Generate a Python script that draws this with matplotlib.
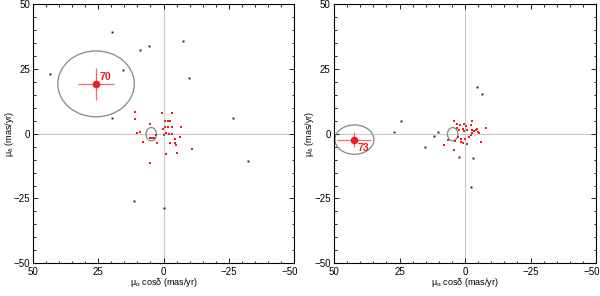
import matplotlib
matplotlib.use("Agg")
import matplotlib.pyplot as plt
from matplotlib.patches import Ellipse
from matplotlib.ticker import MultipleLocator
import matplotlib.transforms as mtransforms

plt.rcParams['font.family'] = ['Liberation Sans', 'DejaVu Sans']
plt.rcParams['mathtext.fontset'] = 'custom'
plt.rcParams['mathtext.rm'] = 'Liberation Sans'
plt.rcParams['mathtext.it'] = 'Liberation Sans'
plt.rcParams['mathtext.bf'] = 'Liberation Sans:bold'

# ---------------- data: left panel (cluster 70) ----------------
left_black_x = [19.9, 5.7, 8.9, -7.4, 43.7, 15.4, -9.8, 19.8, -26.6, -32.3, 11.4, -0.1]
left_black_y = [39.1, 33.9, 32.3, 35.7, 23.0, 24.4, 21.5, 5.9, 6.0, -10.7, -26.0, -28.7]
left_red_x = [10.8, 11.1, 0.7, -3.4, -0.7, -1.6, -2.6, -0.6, -1.6, -3.4, -6.6, 5.3,
              0.3, 10.3, 9.0, -0.3, -1.0, -2.2, -3.3, -6.5, 5.3, 4.3, 2.8, 2.5,
              7.8, -2.6, -4.3, -4.4, -4.9, -10.9, -0.8, -5.1, 5.1, 3.7]
left_red_y = [8.2, 5.7, 8.0, 8.0, 5.0, 4.9, 4.9, 2.7, 2.7, 2.7, 2.6, 3.6,
              1.9, 0.3, 0.6, -0.5, 0.4, -0.2, -0.2, -1.3, -1.7, -1.7, -0.6, -3.7,
              -3.2, -3.7, -2.2, -3.5, -4.3, -5.9, -7.7, -7.3, -11.3, -1.7]
left_star = dict(name="70", x=26.0, y=19.2, ex=6.9, ey=6.3,
                 ell_x=25.9, ell_y=19.2, ell_w=29.4, ell_h=25.4,
                 lab_x=24.6, lab_y=20.7)

# ---------------- data: right panel (cluster 73) ----------------
right_black_x = [-4.6, -6.6, 24.5, 27.2, 10.2, 11.8, 15.2, 2.2, -2.9, -2.2]
right_black_y = [17.9, 15.3, 4.8, 0.6, 0.8, -0.9, -5.0, -8.9, -9.3, -20.5]
right_red_x = [4.3, 2.9, 1.9, 0.3, -0.4, -2.7, -2.2, 3.2, 2.4, 0.8, 0.3, -0.8,
               -2.8, -3.5, -4.1, -4.8, -5.2, -4.6, -7.9, -2.2, -2.7, -1.4, 1.4,
               0.1, 2.8, 3.9, 6.6, 8.1, 1.4, 0.6, -0.9, -6.1, 4.1]
right_red_y = [4.9, 3.6, 3.2, 3.6, 3.1, 4.8, 3.2, 2.1, 1.4, 1.7, 1.1, 1.4,
               1.3, 0.9, 1.3, 0.8, 0.4, 1.7, 2.1, -0.5, 0.1, -1.3, -1.9,
               -2.2, -1.4, -2.9, -2.6, -4.3, -3.2, -3.6, -3.9, -3.2, -6.4]
right_star = dict(name="73", x=42.4, y=-2.3, ex=6.4, ey=2.8,
                  ell_x=42.2, ell_y=-2.3, ell_w=14.9, ell_h=11.3,
                  lab_x=41.1, lab_y=-6.6)

# small ellipse around the cluster mean (both panels)
small_ell = dict(x=4.7, y=-0.2, w=4.0, h=5.1)

ticks = [50, 25, 0, -25, -50]

RED = '#f21c1c'
ERR = '#f26a6a'
ELL = '#7d8a86'
GRID = '#c9c9c9'
FS = 7

fig = plt.figure(figsize=(6.0, 2.96), dpi=100)
ax1 = fig.add_axes([33.3 / 600, 1 - 263.3 / 296, 260.4 / 600, 259.3 / 296])
ax2 = fig.add_axes([334 / 600, 1 - 263.3 / 296, 262 / 600, 259.3 / 296])


def draw(ax, bx, by, rx, ry, st):
    ax.axhline(0, color=GRID, lw=0.8, zorder=0)
    ax.axvline(0, color=GRID, lw=0.8, zorder=0)
    ax.add_patch(Ellipse((st['ell_x'], st['ell_y']), st['ell_w'], st['ell_h'],
                         fill=False, ec=ELL, lw=0.9, zorder=2))
    ax.add_patch(Ellipse((small_ell['x'], small_ell['y']), small_ell['w'], small_ell['h'],
                         fill=False, ec=ELL, lw=0.9, zorder=2))
    ax.plot(bx, by, 's', color='#222222', ms=1.4, mew=0, zorder=3)
    ax.plot(rx, ry, 's', color=RED, ms=1.8, mew=0, zorder=3)
    ax.errorbar([st['x']], [st['y']], xerr=[st['ex']], yerr=[st['ey']],
                fmt='none', ecolor=ERR, elinewidth=0.9, capsize=0, zorder=4)
    ax.plot([st['x']], [st['y']], 'o', color=RED, ms=5.5, mew=0, zorder=5)
    ax.text(st['lab_x'], st['lab_y'], st['name'], color=RED, fontsize=7.5,
            fontweight='bold', ha='left', va='baseline', zorder=6)
    ax.set_xlim(50, -50)
    ax.set_ylim(-50, 50)
    ax.set_xticks(ticks)
    ax.set_yticks(ticks)
    ax.xaxis.set_minor_locator(MultipleLocator(5))
    ax.yaxis.set_minor_locator(MultipleLocator(5))
    ax.tick_params(which='both', direction='in', top=True, right=True,
                   labelsize=FS, width=0.6)
    ax.tick_params(axis='x', pad=2.5)
    ax.tick_params(axis='y', pad=2.5)
    ax.tick_params(which='major', length=3.5)
    ax.tick_params(which='minor', length=1.8)
    for s in ax.spines.values():
        s.set_linewidth(0.8)
    ax.set_xlabel(r'$\mathregular{\mu_\alpha}$ cos$\mathregular{\delta}$ (mas/yr)',
                  fontsize=6.5)
    ax.set_ylabel(r'$\mathregular{\mu_\delta}$ (mas/yr)', fontsize=6.5)
    ax.xaxis.set_label_coords(0.5, -0.05)
    ax.yaxis.set_label_coords(-0.068, 0.5)
    # last x tick label sits slightly inward, as in the reference
    fig.canvas.draw()
    lbl = ax.get_xticklabels()[-1]
    lbl.set_transform(lbl.get_transform() +
                      mtransforms.ScaledTranslation(-4 / 100, 0, fig.dpi_scale_trans))


draw(ax1, left_black_x, left_black_y, left_red_x, left_red_y, left_star)
draw(ax2, right_black_x, right_black_y, right_red_x, right_red_y, right_star)

fig.savefig('out.png', dpi=100)
